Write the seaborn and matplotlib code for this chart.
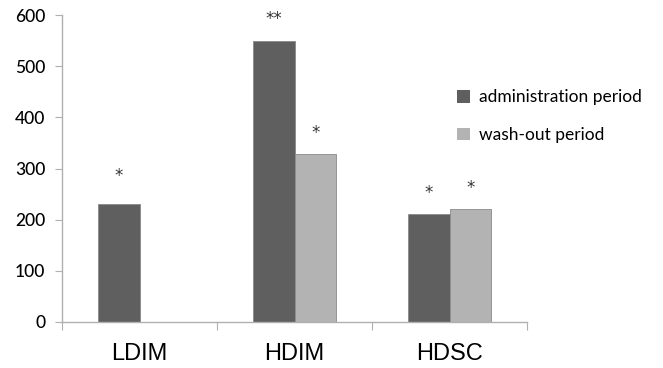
import seaborn as sns
import matplotlib.pyplot as plt
import pandas as pd

# values
groups = ["LDIM", "HDIM", "HDSC"]
periods = ["administration period", "wash-out period"]
admin_values = [230, 550, 211]
washout_values = [None, 328, 220]   # no wash-out bar for LDIM
y_ticks = [0, 100, 200, 300, 400, 500, 600]

# significance marks per period, in bar order
admin_stars = ["*", "**", "*"]
washout_stars = ["*", "*"]

colors = {"administration period": "#5f5f5f", "wash-out period": "#b3b3b3"}

rows = []
for g, a, w in zip(groups, admin_values, washout_values):
    rows.append({"group": g, "period": periods[0], "value": a})
    rows.append({"group": g, "period": periods[1], "value": w})
df = pd.DataFrame(rows).dropna()

sns.set_style("white")
fig = plt.figure(figsize=(6.63, 3.68), dpi=100)
ax = fig.add_axes([0.0935, 0.125, 0.7015, 0.834])

sns.barplot(data=df, x="group", y="value", hue="period", order=groups,
            hue_order=periods, palette=colors, width=0.54,
            edgecolor="#8a8a8a", linewidth=0.6, ax=ax)

# stars above bars
star_pads = [[14, 9, 9], [9, 9]]
for cont, labels, pads in zip(ax.containers, [admin_stars, washout_stars], star_pads):
    for bar, lab, pad in zip(cont, labels, pads):
        ax.annotate(lab, (bar.get_x() + bar.get_width() / 2, bar.get_height()),
                    xytext=(0, pad), textcoords="offset points",
                    ha="center", va="bottom", fontsize=12, color="#333333")

ax.set_ylim(0, 600)
ax.set_yticks(y_ticks)
ax.set_xlim(-0.5, 2.5)
ax.set_xticks([-0.5, 0.5, 1.5, 2.5], minor=False)
ax.set_xticklabels([])
ax.set_xticks([0, 1, 2], minor=True)
ax.set_xticklabels(groups, minor=True, fontsize=17, family="Liberation Sans",
                   color="black")
ax.tick_params(axis="x", which="major", direction="out", length=6,
               color="#b0b0b0", bottom=True)
ax.tick_params(axis="x", which="minor", length=0, pad=15)
ax.tick_params(axis="y", direction="out", length=5, color="#b0b0b0",
               left=True, labelsize=12.5, pad=7, labelcolor="black")
for lab in ax.get_yticklabels():
    lab.set_family("Lato")
    lab.set_fontweight("medium")

ax.set_xlabel("")
ax.set_ylabel("")
sns.despine(ax=ax)
for side in ["left", "bottom"]:
    ax.spines[side].set_color("#b0b0b0")
    ax.spines[side].set_linewidth(1.0)

leg = ax.legend(loc="upper left", bbox_to_anchor=(0.666, 0.8),
                bbox_transform=fig.transFigure, frameon=False,
                handlelength=0.75, handleheight=0.75, handletextpad=0.5,
                labelspacing=1.25, prop={"family": "Lato", "size": 12.5})
for h in leg.legend_handles:
    h.set_edgecolor("none")
for t in leg.get_texts():
    t.set_color("black")

fig.savefig("out.png", dpi=100)
